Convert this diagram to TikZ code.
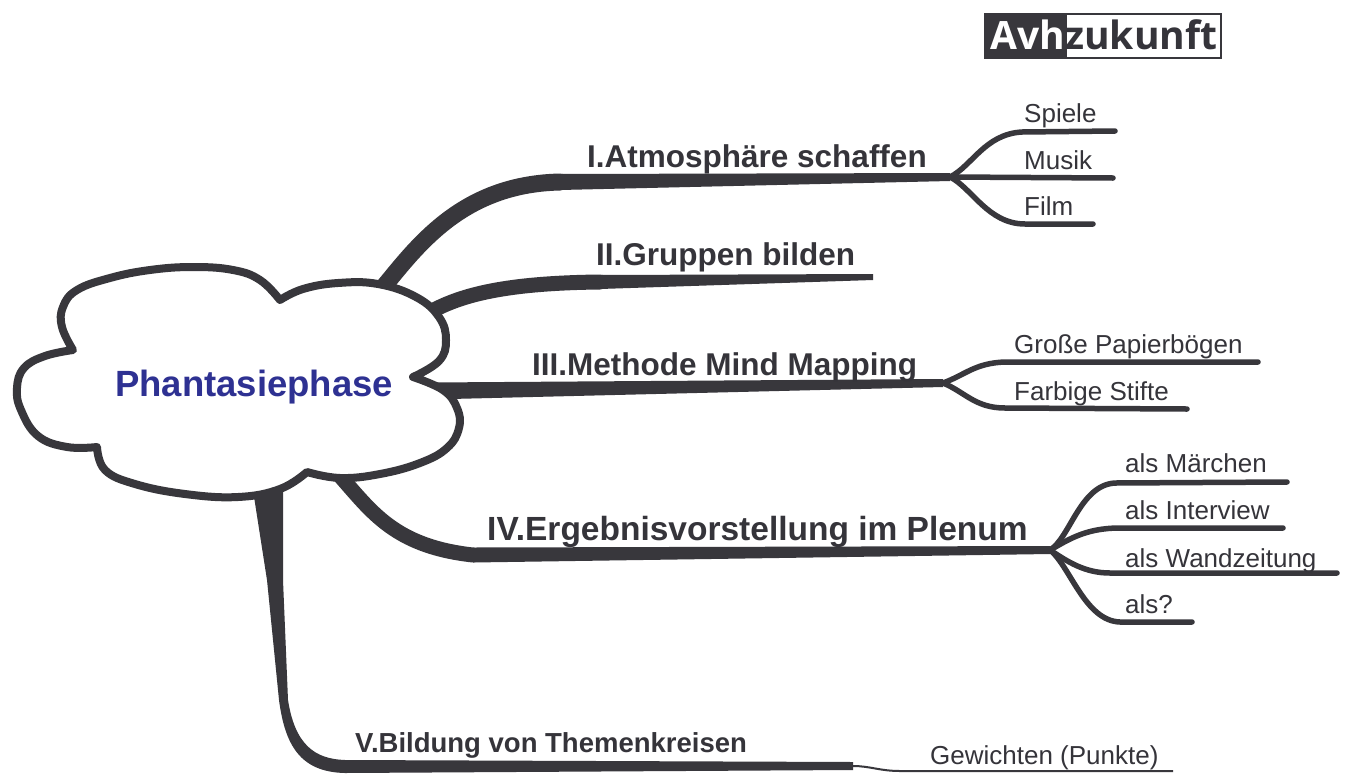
\documentclass[tikz,border=0pt]{standalone}
\usepackage{fontspec}
\setmainfont{Liberation Sans}
\newfontfamily\titlefont{Open Sans}
\usetikzlibrary{calc}
\definecolor{ink}{HTML}{38373C}
\definecolor{txt}{HTML}{35343A}
\definecolor{blu}{HTML}{2E3192}
\newcommand\taper[4]{\fill[ink] let \p1=(#1), \p2=(#2) in (\x1,{\y1+#3}) -- (\x2,{\y2+#4}) -- (\x2,{\y2-#4}) -- (\x1,{\y1-#3}) -- cycle;}
\tikzset{
  br/.style={draw=ink, line width=#1, line cap=round, line join=round},
  subbr/.style={draw=ink, line width=5.5, line cap=round, line join=round},
  lab/.style={anchor=base west, inner sep=0, text=txt, font=\bfseries\fontsize{#1}{34}\selectfont},
  sublab/.style={anchor=base west, inner sep=0, text=txt, font=\fontsize{26}{28}\selectfont}
}
\begin{document}
\begin{tikzpicture}[x=1pt,y=-1pt]
\useasboundingbox (0,0) rectangle (1346,774);
\fill[white] (0,0) rectangle (1346,774);

% coordinates
\coordinate (b1a) at (366,308);
\coordinate (b1b) at (390,279);
\coordinate (b1m) at (560,182);
\coordinate (j1) at (950,177);
\coordinate (b2a) at (412,324);
\coordinate (b2b) at (432,311);
\coordinate (b2m) at (600,282);
\coordinate (e2) at (873,277);
\coordinate (b3a) at (430,391);
\coordinate (j3) at (943,383);
\coordinate (b4a) at (333,468);
\coordinate (b4b) at (347,484);
\coordinate (b4m) at (473,555);
\coordinate (j4) at (1050,550);
\coordinate (j5) at (853,766);

% branch I
\draw[br=17] (b1a) -- (b1b) .. controls (425,236) and (470,184) .. (b1m);
\taper{b1m}{j1}{8}{4}
\draw[subbr] (j1) .. controls (972,166) and (985,134) .. (1022,132) -- (1115,131);
\draw[subbr] (j1) -- (1113,178);
\draw[subbr] (j1) .. controls (972,188) and (988,224) .. (1025,224) -- (1093,224);

% branch II
\draw[br=15] (b2a) -- (b2b) .. controls (462,295) and (505,283) .. (b2m);
\taper{b2m}{e2}{7}{3}

% branch III
\taper{b3a}{j3}{8.5}{4}
\draw[subbr] (j3) .. controls (965,375) and (975,363) .. (1005,362) -- (1258,362);
\draw[subbr] (j3) .. controls (965,392) and (975,408) .. (1005,408) -- (1187,409);

% branch IV
\draw[br=15] (b4a) -- (b4b) .. controls (375,516) and (400,547) .. (b4m);
\taper{b4m}{j4}{7.5}{4}
\draw[subbr] (j4) .. controls (1070,538) and (1080,485) .. (1115,483) -- (1287,482);
\draw[subbr] (j4) .. controls (1068,540) and (1085,528) .. (1120,528) -- (1283,528);
\draw[subbr] (j4) .. controls (1068,562) and (1085,573) .. (1110,573) -- (1337,573);
\draw[subbr] (j4) .. controls (1070,566) and (1085,621) .. (1120,622) -- (1192,622);

% branch V
\fill[ink] (250,470) -- (255,503) -- (267,580) -- (279,700) .. controls (285,745) and (300,772) .. (345,773) -- (853,770) -- (853,762) -- (345,760) .. controls (315,759) and (295,745) .. (288,700) -- (283,580) -- (283,493) -- (285,470) -- cycle;
\draw[ink, line width=2] (j5) .. controls (870,766) and (880,771) .. (900,771) -- (1173,771);

% cloud
\draw[ink, line width=8, fill=white, line join=round]
 plot[smooth, tension=0.7] coordinates {(73,350) (62,327) (63,307) (77,290) (110,278) (150,270) (193,267) (233,270) (260,280) (280,300)}
 -- plot[smooth, tension=0.7] coordinates {(280,300) (303,289) (338,283) (378,284) (416,297) (439,317) (446,340) (439,361) (413,377)}
 -- plot[smooth, tension=0.7] coordinates {(413,377) (443,390) (457,408) (459,428) (447,448) (420,463) (380,474) (340,478) (307,472)}
 -- plot[smooth, tension=0.7] coordinates {(307,472) (280,489) (238,497) (185,494) (135,484) (105,470) (97,447)}
 -- plot[smooth, tension=0.7] coordinates {(97,447) (67,447) (38,436) (21,410) (17,388) (24,368) (45,356) (73,350)}
 -- cycle;
\node (center) [anchor=base west, inner sep=0, text=blu, font=\bfseries\fontsize{36.5}{40}\selectfont] at (115,396) {Phantasiephase};

% labels
\node (l1) [lab=31.5] at (587,167) {I.Atmosphäre schaffen};
\node (l2) [lab=31.5] at (596,265) {II.Gruppen bilden};
\node (l3) [lab=31.5] at (532,375) {III.Methode Mind Mapping};
\node (l4) [lab=33.5] at (487,540) {IV.Ergebnisvorstellung im Plenum};
\node (l5) [lab=27.5] at (355,752) {V.Bildung von Themenkreisen};

\node (s11) [sublab] at (1024,122) {Spiele};
\node (s12) [sublab] at (1024,169) {Musik};
\node (s13) [sublab] at (1024,215) {Film};
\node (s31) [sublab] at (1014,353) {Große Papierbögen};
\node (s32) [sublab] at (1014,400) {Farbige Stifte};
\node (s41) [sublab] at (1125,472) {als Märchen};
\node (s42) [sublab] at (1125,519) {als Interview};
\node (s43) [sublab] at (1125,567) {als Wandzeitung};
\node (s44) [sublab] at (1125,613) {als?};
\node (s51) [sublab] at (930,764) {Gewichten (Punkte)};

% title
\fill[ink] (985,14) rectangle (1067,58);
\draw[ink, line width=2] (985,14) rectangle (1221,58);
\node (t1) [anchor=base west, inner sep=0, text=white, font=\titlefont\bfseries\fontsize{39}{42}\selectfont] at (990,49) {Avh};
\node (t2) [anchor=base west, inner sep=0, text=txt, font=\titlefont\bfseries\fontsize{39}{42}\selectfont] at (t1.base east) {zukunft};
\end{tikzpicture}
\end{document}
